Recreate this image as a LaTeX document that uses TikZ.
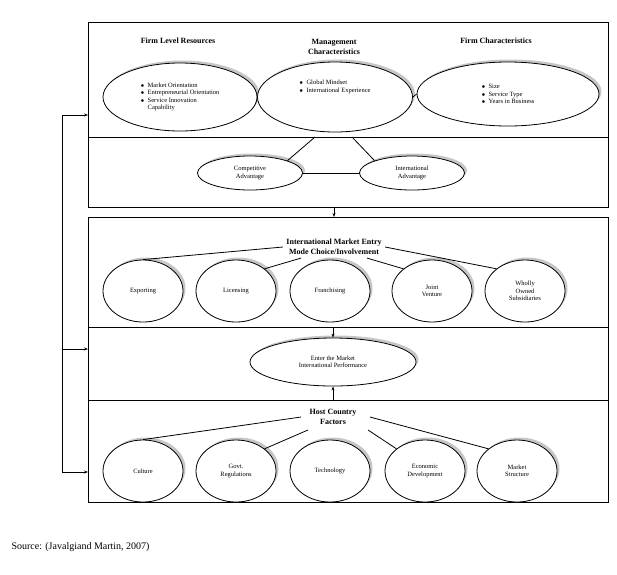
\documentclass[tikz,border=0pt]{standalone}
\usepackage{fontspec}
\setmainfont{Liberation Serif}
\usetikzlibrary{arrows.meta,positioning,shadows,shapes.geometric}

\begin{document}
\begin{tikzpicture}[x=1pt,y=-1pt,
  oval/.style={draw, ellipse, thick, fill=white, align=center, inner sep=0pt, font=\fontsize{6.5}{7.5}\selectfont,
               drop shadow={shadow xshift=2.5pt, shadow yshift=2.5pt, fill=gray!45, opacity=1}},
  head/.style={font=\bfseries\fontsize{8}{9.5}\selectfont, align=center},
  panel/.style={draw, thick},
  arr/.style={-{Stealth[length=4pt]}, thick},
  link/.style={thick}
]
  \useasboundingbox (0,0) rectangle (617,574);

  % Panels
  \draw[panel] (88,22) rectangle (608,207);
  \draw[panel] (88,137) -- (608,137);
  \draw[panel] (88,217) rectangle (608,502);
  \draw[panel] (88,327) -- (608,327);
  \draw[panel] (88,400) -- (608,400);

  % Top panel
  \node[head] (resH) at (178,41) {Firm Level Resources};
  \node[head] (mgmtH) at (334,47) {Management\\Characteristics};
  \node[head] (firmH) at (496,41) {Firm Characteristics};

  \node[oval, minimum width=154, minimum height=68, align=left] (res) at (180,97)
    {$\bullet$\ \ Market Orientation\\$\bullet$\ \ Entrepreneurial Orientation\\$\bullet$\ \ Service Innovation\\\phantom{$\bullet$\ \ }Capability};
  \node[oval, minimum width=155, minimum height=70, align=left] (mgmt) at (335,97)
    {$\bullet$\ \ Global Mindset\\$\bullet$\ \ International Experience\\[14pt]};
  \node[oval, minimum width=182, minimum height=64, align=left] (firm) at (508,94)
    {$\bullet$\ \ Size\\$\bullet$\ \ Service Type\\$\bullet$\ \ Years in Business};
  \draw[link] (res.east) -- (mgmt.west);
  \draw[link] (mgmt.east) -- (firm.west);

  \node[oval, minimum width=105, minimum height=34] (comp) at (250,173) {Competitive\\Advantage};
  \node[oval, minimum width=105, minimum height=34] (intl) at (412,173) {International\\Advantage};
  \coordinate (m1) at (315,137);
  \coordinate (m2) at (352,137);
  \draw[link] (m1) -- (comp.north east);
  \draw[link] (m2) -- (intl.north west);
  \draw[link] (comp) -- (intl);

  \coordinate (t1) at (334,207);
  \coordinate (t2) at (334,217);
  \draw[arr] (t1) -- (t2);

  % Entry mode panel
  \node[head] (entry) at (334,247) {International Market Entry\\Mode Choice/Involvement};
  \foreach \nm/\x/\txt in {exp/143/Exporting, lic/236/Licensing, fra/330/Franchising,
      jv/432/Joint\\Venture, wos/525/Wholly\\Owned\\Subsidiaries}
    \node[oval, minimum width=80, minimum height=62] (\nm) at (\x,291) {\txt};
  \draw[link] (entry.west) -- (exp.north);
  \draw[link] (entry.south west) ++(18,0) coordinate (e1) -- (lic.north east);
  \draw[link] (entry.south east) ++(-18,0) coordinate (e2) -- (jv.north west);
  \draw[link] (entry.east) -- (wos.north west);

  % Performance panel
  \node[oval, minimum width=166, minimum height=48] (perf) at (333,362)
    {Enter the Market\\International Performance};
  \coordinate (p1) at (333,327);
  \coordinate (p2) at (333,400);
  \draw[arr] (p1) -- (perf.north);
  \draw[arr] (p2) -- (perf.south);

  % Host country panel
  \node[head] (host) at (333,417) {Host Country\\Factors};
  \foreach \nm/\x/\txt in {cul/143/Culture, gov/236/Govt.\\Regulations, tec/330/Technology,
      eco/425/Economic\\Development, mkt/517/Market\\Structure}
    \node[oval, minimum width=80, minimum height=62] (\nm) at (\x,471) {\txt};
  \draw[link] (host.west) ++(-5,0) coordinate (h0) -- (cul.north);
  \draw[link] (host.south west) ++(2,2) coordinate (h1) -- (gov.north east);
  \draw[link] (host.south east) ++(8,2) coordinate (h2) -- (eco.north west);
  \draw[link] (host.east) ++(10,0) coordinate (h3) -- (mkt.north west);

  % Feedback bracket
  \coordinate (b1) at (62,115);
  \coordinate (b2) at (62,472);
  \coordinate (b3) at (62,349);
  \draw[thick] (b1) -- (b2);
  \draw[arr] (b1) -- (88,115);
  \draw[arr] (b3) -- (88,349);
  \draw[arr] (b2) -- (88,472);

  \node[anchor=west, font=\fontsize{10}{12}\selectfont] (src) at (8,547) {Source: (Javalgiand Martin, 2007)};
\end{tikzpicture}
\end{document}
